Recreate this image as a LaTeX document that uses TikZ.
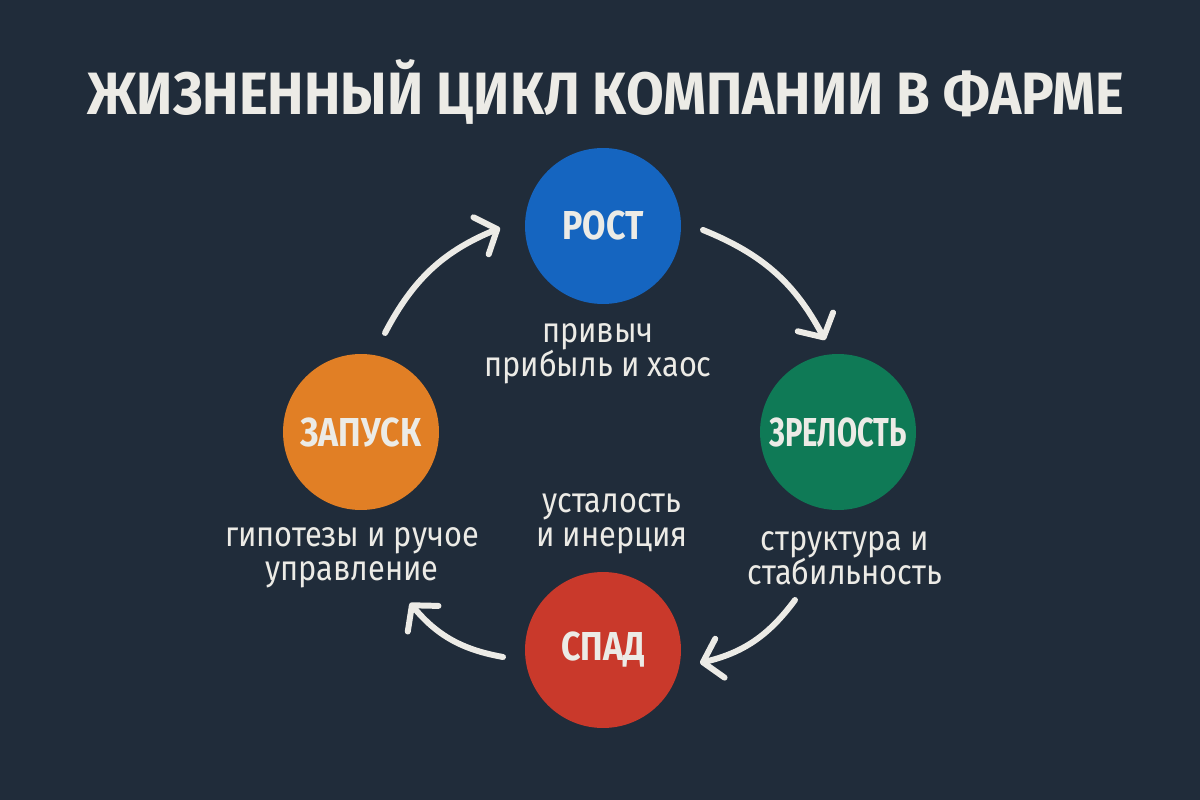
\documentclass[tikz,border=0pt]{standalone}
\usepackage{fontspec}
\setmainfont[FakeStretch=0.875]{Fira Sans}
\newfontfamily\headfont[FakeStretch=0.915]{Fira Sans}
\newfontfamily\phasefont[FakeStretch=0.84]{Fira Sans}
\newfontfamily\tightfont[FakeStretch=0.72]{Fira Sans}
\usepackage{tikz}
\usetikzlibrary{arrows.meta}
\usetikzlibrary{positioning}

\definecolor{bgnavy}{HTML}{202C3A}
\definecolor{chalk}{HTML}{ECEBE6}
\definecolor{rostblue}{HTML}{1565C0}
\definecolor{zrelgreen}{HTML}{0F7A56}
\definecolor{spadred}{HTML}{C9392B}
\definecolor{zapuskorange}{HTML}{E17F25}

\begin{document}
\begin{tikzpicture}[x=0.02cm,y=-0.02cm,
  phase/.style={circle,minimum size=3.12cm,inner sep=0pt,text=chalk,
    font=\phasefont\bfseries\fontsize{23}{24}\selectfont},
  note/.style={text=chalk,align=center,font=\fontsize{20}{19.5}\selectfont},
  cyc/.style={draw=chalk,line width=3.4pt,line cap=round,
    -{Straight Barb[length=3.5mm,width=8mm,round]}}]
  \fill[bgnavy] (0,0) rectangle (1200,800);
  \useasboundingbox (0,0) rectangle (1200,800);
  \node[text=chalk,font=\headfont\bfseries\fontsize{34}{40}\selectfont] (title) at (606,92) {ЖИЗНЕННЫЙ ЦИКЛ КОМПАНИИ В ФАРМЕ};
    \foreach \name/\x/\y/\col/\txt in {rost/603/226/rostblue/РОСТ,
      zrel/838/432/zrelgreen/{\tightfont ЗРЕЛОСТЬ},spad/603/650/spadred/СПАД,
      zapusk/361/432/zapuskorange/ЗАПУСК}{
      \node[phase,fill=\col] (\name) at (\x,\y) {\txt};
    }
    \node[note] (rostnote) at (598,354) {привыч\\прибыль и хаос};
    \node[note] (zrelnote) at (845,558) {структура и\\стабильность};
    \node[note] (spadnote) at (612,524) {усталость\\и инерция};
    \node[note] (zapusknote) at (352,558) {гипотезы и ручое\\управление};
    \coordinate (a1) at (385,333);
    \coordinate (b1) at (500,228);
    \coordinate (a2) at (703,230);
    \coordinate (b2) at (825,340);
    \coordinate (a3) at (795,600);
    \coordinate (b3) at (700,663);
    \coordinate (a4) at (503,657);
    \coordinate (b4) at (410,603);
    \draw[cyc] (a1) to[bend left=20] (b1);
    \draw[cyc] (a2) to[bend left=20] (b2);
    \draw[cyc] (a3) to[bend left=20] (b3);
    \draw[cyc] (a4) to[bend left=20] (b4);
  \end{tikzpicture}
\end{document}
